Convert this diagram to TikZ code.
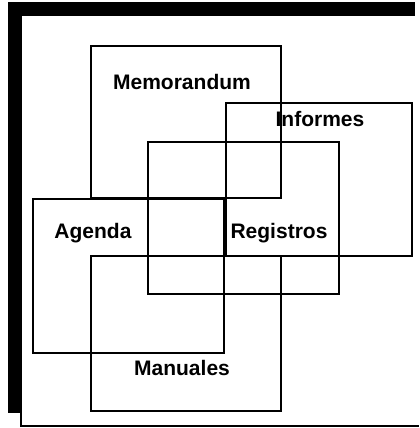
\documentclass[tikz,border=0pt]{standalone}
\usepackage{fontspec}
\setmainfont{Liberation Sans}
\begin{document}
\begin{tikzpicture}[scale=0.03514]
\tikzstyle{every node}+=[inner sep=0pt, font=\fontsize{21}{24}\selectfont\bfseries]
\tikzstyle{box}=[line width=1.6pt]
\useasboundingbox (0,0) rectangle (419,-428);
\fill (8,-2) rectangle (415,-16);
\fill (8,-2) rectangle (22,-413);
\draw[line width=1.2pt] (21,-410) -- (21,-426) -- (419,-426);
\draw[box] (91,-46) rectangle (281,-198);
\draw[box] (226,-103) rectangle (412,-256);
\draw[box] (148,-142) rectangle (339,-294);
\draw[box] (33,-199) rectangle (224,-353);
\draw[box] (91,-256) rectangle (281,-411);
\node (memorandum) at (182,-82) {Memorandum};
\node (informes) at (320,-119) {Informes};
\node (agenda) at (93,-233) {Agenda};
\node (registros) at (279,-233) {Registros};
\node (manuales) at (182,-368) {Manuales};
\end{tikzpicture}
\end{document}
